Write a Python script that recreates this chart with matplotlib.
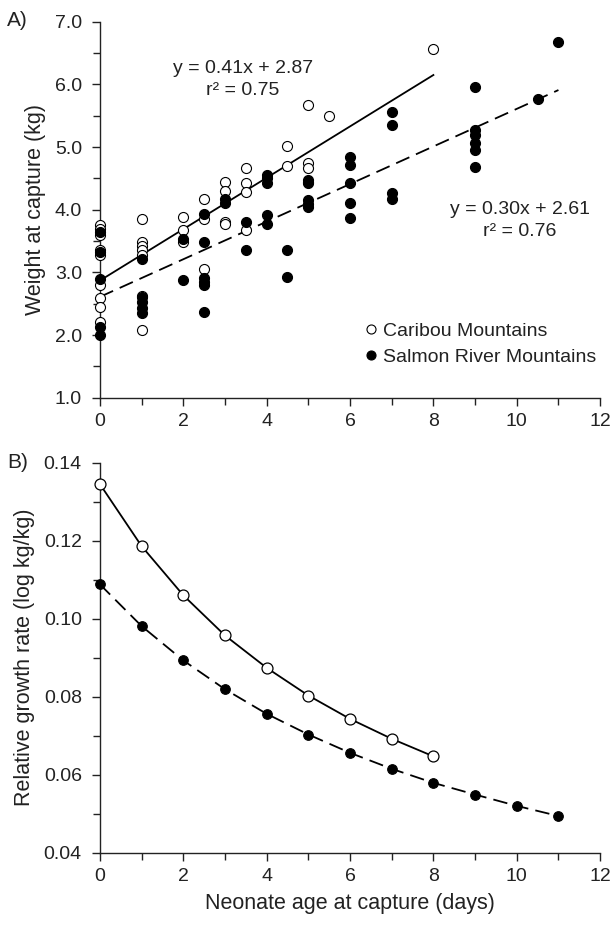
import numpy as np
import matplotlib
matplotlib.use('Agg')
import matplotlib.pyplot as plt
from matplotlib.ticker import MultipleLocator, FormatStrFormatter
from matplotlib.lines import Line2D

plt.rcParams['font.family'] = ['Liberation Sans', 'DejaVu Sans']
ink = '#222222'

# panel A: weight at capture (kg) vs neonate age (days)
cari_x = [0]*9 + [1]*7 + [2]*3 + [2.5]*3 + [3]*4 + [3.5]*4 + [4.5]*2 + [5]*4 + [5.5] + [8]
cari_y = [3.76, 3.69, 3.60, 3.36, 3.28, 2.80, 2.59, 2.45, 2.21,
          3.86, 3.49, 3.42, 3.36, 3.28, 2.62, 2.08,
          3.89, 3.67, 3.49,
          4.17, 3.85, 3.06,
          4.45, 4.30, 3.81, 3.77,
          4.66, 4.42, 4.28, 3.68,
          5.02, 4.70,
          5.67, 4.75, 4.66, 4.45,
          5.49,
          6.56]

salm_x = ([0]*5 + [1]*5 + [2]*2 + [2.5]*6 + [3]*2 + [3.5]*2 + [4]*5 + [4.5]*2
          + [5]*5 + [6]*5 + [7]*4 + [9]*6 + [10.5] + [11])
salm_y = [3.65, 3.33, 2.89, 2.13, 2.00,
          3.21, 2.61, 2.53, 2.44, 2.36,
          3.54, 2.88,
          3.93, 3.49, 2.91, 2.85, 2.80, 2.37,
          4.17, 4.11,
          3.81, 3.36,
          4.55, 4.50, 4.43, 3.92, 3.77,
          3.35, 2.93,
          4.47, 4.42, 4.15, 4.09, 4.04,
          4.84, 4.72, 4.43, 4.11, 3.87,
          5.56, 5.35, 4.27, 4.17,
          5.96, 5.27, 5.19, 5.07, 4.95, 4.69,
          5.77,
          6.67]

# regression fits as printed on the chart (slope, intercept, x from, x to)
cari_fit = (0.41, 2.87, 0, 8)
salm_fit = (0.30, 2.61, 0, 11)

# panel B: relative growth rate
rgr_cari_x = [0, 1, 2, 3, 4, 5, 6, 7, 8]
rgr_cari_y = [0.1345, 0.1186, 0.1060, 0.0957, 0.0874, 0.0803, 0.0743, 0.0692, 0.0647]
rgr_salm_x = [0, 1, 2, 3, 4, 5, 6, 7, 8, 9, 10, 11]
rgr_salm_y = [0.1088, 0.0981, 0.0893, 0.0819, 0.0756, 0.0703, 0.0656, 0.0615,
              0.0579, 0.0549, 0.0520, 0.0494]

fig = plt.figure(figsize=(6.13, 9.25), dpi=100)
axA = fig.add_axes([0.163, 0.570, 0.816, 0.4065])
axB = fig.add_axes([0.163, 0.0782, 0.816, 0.4216])

dash = (0, (8, 4))

def style(ax):
    for s in ['top', 'right']:
        ax.spines[s].set_visible(False)
    for s in ['left', 'bottom']:
        ax.spines[s].set_linewidth(1.0)
        ax.spines[s].set_color(ink)
    ax.set_xlim(0, 12)
    ax.xaxis.set_major_locator(MultipleLocator(2))
    ax.xaxis.set_minor_locator(MultipleLocator(1))
    ax.tick_params(which='major', direction='out', length=6, width=1.0,
                   colors=ink, labelsize=14)
    ax.tick_params(which='minor', direction='out', length=5, width=1.0, colors=ink)
    ax.tick_params(axis='y', which='major', pad=7)
    ax.tick_params(axis='x', which='major', pad=5)

# ---- A
style(axA)
axA.set_ylim(1.0, 7.0)
axA.yaxis.set_major_locator(MultipleLocator(1))
axA.yaxis.set_minor_locator(MultipleLocator(0.5))
axA.yaxis.set_major_formatter(FormatStrFormatter('%.1f'))

for fit, ls in [(cari_fit, '-'), (salm_fit, dash)]:
    m, b, x0, x1 = fit
    xs = np.array([x0, x1])
    axA.plot(xs, m*xs + b, color='black', lw=1.3, linestyle=ls, zorder=2)

axA.scatter(cari_x, cari_y, s=52, facecolor='white', edgecolor='black',
            linewidth=0.8, zorder=3, clip_on=False)
axA.scatter(salm_x, salm_y, s=52, facecolor='black', edgecolor='black',
            linewidth=0.8, zorder=4, clip_on=False)

eq = dict(ha='center', va='center', fontsize=14, color=ink)
axA.text(3.43, 6.26, 'y = 0.41x + 2.87', **eq)
axA.text(3.43, 5.90, 'r² = 0.75', **eq)
axA.text(10.08, 4.00, 'y = 0.30x + 2.61', **eq)
axA.text(10.08, 3.65, 'r² = 0.76', **eq)

handles = [Line2D([], [], ls='none', marker='o', ms=6.5, mfc='white', mec='black', mew=0.8),
           Line2D([], [], ls='none', marker='o', ms=6.5, mfc='black', mec='black', mew=0.8)]
axA.legend(handles, ['Caribou Mountains', 'Salmon River Mountains'], frameon=False,
           loc='lower left', bbox_to_anchor=(0.505, 0.065), handletextpad=0.05,
           handlelength=1.1, labelspacing=0.4, fontsize=14, labelcolor=ink,
           borderaxespad=0)
axA.set_ylabel('Weight at capture (kg)', fontsize=15.5, color=ink, labelpad=6)

# ---- B
style(axB)
axB.set_ylim(0.04, 0.14)
axB.yaxis.set_major_locator(MultipleLocator(0.02))
axB.yaxis.set_minor_locator(MultipleLocator(0.01))
axB.yaxis.set_major_formatter(FormatStrFormatter('%.2f'))

axB.plot(rgr_cari_x, rgr_cari_y, color='black', lw=1.3, zorder=2)
axB.plot(rgr_salm_x, rgr_salm_y, color='black', lw=1.3, linestyle=dash, zorder=2)
axB.scatter(rgr_cari_x, rgr_cari_y, s=62, facecolor='white', edgecolor='black',
            linewidth=0.9, zorder=3, clip_on=False)
axB.scatter(rgr_salm_x, rgr_salm_y, s=48, facecolor='black', edgecolor='black',
            linewidth=0.8, zorder=3, clip_on=False)
axB.set_ylabel('Relative growth rate (log kg/kg)', fontsize=15.5, color=ink, labelpad=6)
axB.set_xlabel('Neonate age at capture (days)', fontsize=15.5, color=ink, labelpad=6)

fig.text(0.012, 0.978, 'A)', fontsize=15, color=ink, va='center')
fig.text(0.012, 0.500, 'B)', fontsize=15, color=ink, va='center')

fig.savefig('out.png', dpi=100)
